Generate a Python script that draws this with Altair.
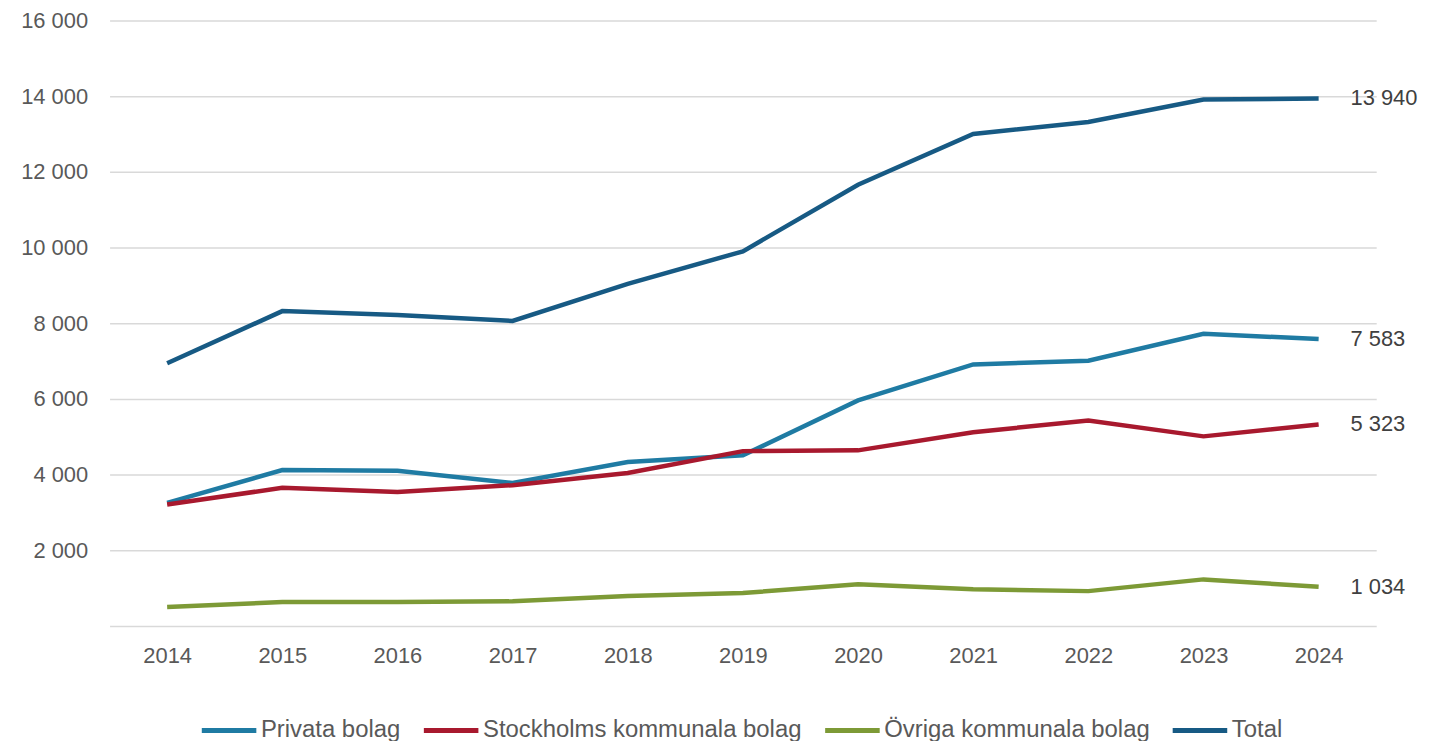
import altair as alt
import pandas as pd

years = ["2014", "2015", "2016", "2017", "2018", "2019", "2020", "2021", "2022", "2023", "2024"]
series_names = ["Privata bolag", "Stockholms kommunala bolag", "Övriga kommunala bolag", "Total"]
privata = [3250, 4120, 4100, 3780, 4330, 4510, 5960, 6910, 7010, 7720, 7583]
stockholms = [3210, 3650, 3540, 3720, 4040, 4620, 4640, 5120, 5430, 5010, 5323]
ovriga = [500, 630, 630, 650, 790, 870, 1100, 970, 920, 1230, 1034]
total = [6940, 8320, 8220, 8060, 9040, 9900, 11660, 13000, 13320, 13910, 13940]
end_labels = ["7 583", "5 323", "1 034", "13 940"]
colors = ["#1F7BA3", "#A8192E", "#7D9A36", "#175A84"]

rows = []
for name, vals in zip(series_names, [privata, stockholms, ovriga, total]):
    for y, v in zip(years, vals):
        rows.append({"year": y, "series": name, "value": v})
df = pd.DataFrame(rows)

ends = pd.DataFrame({
    "year": [years[-1]] * 4,
    "series": series_names,
    "value": [privata[-1], stockholms[-1], ovriga[-1], total[-1]],
    "label": end_labels,
})

FONT = "Liberation Sans"
FS = 22

x = alt.X("year:O", title=None, sort=years,
          axis=alt.Axis(labelAngle=0, ticks=False, domain=False, labelPadding=20,
                        labelFontSize=FS, labelColor="#595959", labelFont=FONT, grid=False))
y = alt.Y("value:Q", title=None,
          scale=alt.Scale(domain=[0, 16000], nice=False),
          axis=alt.Axis(values=[0, 2000, 4000, 6000, 8000, 10000, 12000, 14000, 16000],
                        labelExpr="datum.value == 0 ? '' : replace(format(datum.value, ','), ',', ' ')",
                        ticks=False, domain=False, labelPadding=22, labelFontSize=FS,
                        labelColor="#595959", labelFont=FONT,
                        gridColor="#d9d9d9", gridWidth=1.5))

color = alt.Color("series:N", title=None,
                  scale=alt.Scale(domain=series_names, range=colors),
                  legend=alt.Legend(orient="none", direction="horizontal", legendX=90, legendY=683,
                                    symbolType="stroke", symbolSize=3000, symbolStrokeWidth=5,
                                    labelFontSize=24, labelFont=FONT, labelColor="#595959",
                                    labelOffset=2, columnPadding=12, labelLimit=500))

lines = alt.Chart(df).mark_line(strokeWidth=4.5).encode(x=x, y=y, color=color,
                                                        order=alt.Order("year:O"))

labels = alt.Chart(ends).mark_text(align="left", baseline="middle", dx=32, fontSize=FS,
                                   font=FONT, color="#404040").encode(
    x=alt.X("year:O", sort=years), y="value:Q", text="label:N")

chart = alt.layer(lines, labels).properties(
    width=1272, height=608,
    autosize=alt.AutoSizeParams(type="none"),
    padding={"left": 102, "top": 11, "right": 50, "bottom": 114},
).configure(font=FONT).configure_view(stroke=None)

chart.save("out.html", embed_options={"renderer": "svg", "actions": False})
